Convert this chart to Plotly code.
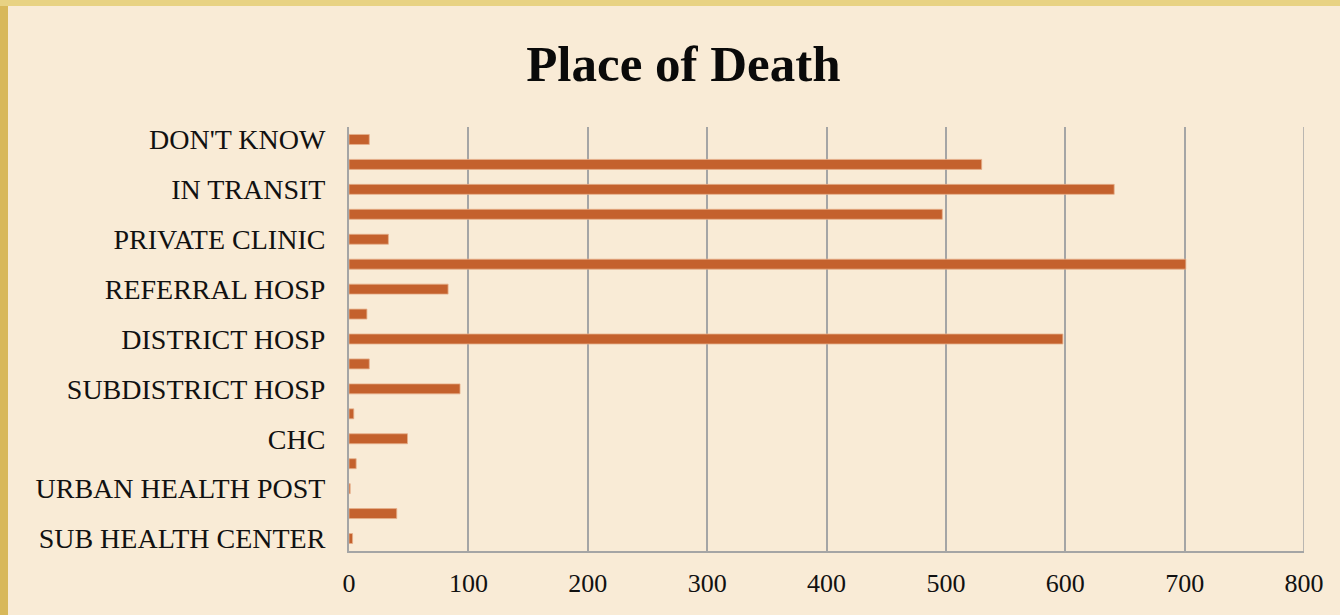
import plotly.graph_objects as go

# Categories from bottom to top (every other label is hidden in the original chart)
categories = [
    "SUB HEALTH CENTER", "PHC", "URBAN HEALTH POST", "URBAN HEALTH CENTER",
    "CHC", "FRU", "SUBDISTRICT HOSP", "AREA HOSP", "DISTRICT HOSP",
    "MEDICAL COLLEGE", "REFERRAL HOSP", "PRIVATE HOSP", "PRIVATE CLINIC",
    "HOME", "IN TRANSIT", "OTHER", "DON'T KNOW",
]
values = [3, 40, 1, 6, 49, 4, 93, 17, 598, 15, 83, 701, 33, 497, 641, 530, 17]

shown_labels = [
    "SUB HEALTH CENTER", "URBAN HEALTH POST", "CHC", "SUBDISTRICT HOSP",
    "DISTRICT HOSP", "REFERRAL HOSP", "PRIVATE CLINIC", "IN TRANSIT", "DON'T KNOW",
]
x_ticks = [0, 100, 200, 300, 400, 500, 600, 700, 800]

BG = "#F9EBD6"
BAR = "#C4612D"
GRID = "#A5A5A5"
FONT = "Liberation Serif"

fig = go.Figure()
fig.add_trace(go.Bar(
    x=values, y=categories, orientation="h", width=0.4,
    marker=dict(color=BAR, line=dict(color="#E6B08C", width=0.8)),
    showlegend=False,
))

fig.update_layout(
    width=1340, height=615,
    paper_bgcolor=BG, plot_bgcolor=BG,
    margin=dict(l=349, r=36, t=127, b=64),
    font=dict(family=FONT, color="#111111", size=26),
    title=dict(
        text="<b>Place of Death</b>", x=0.51, xref="container", xanchor="center",
        y=1 - 63 / 615, yref="container", yanchor="middle",
        font=dict(family=FONT, size=51, color="#0a0a0a"),
    ),
    xaxis=dict(
        range=[0, 800], tickmode="array", tickvals=x_ticks,
        showgrid=True, gridcolor=GRID, gridwidth=1.5,
        zeroline=False, showline=True, linecolor=GRID, linewidth=2,
        ticks="", ticklabelstandoff=8, tickfont=dict(size=26),
        fixedrange=True,
    ),
    yaxis=dict(
        type="category", categoryorder="array", categoryarray=categories,
        tickmode="array", tickvals=shown_labels, ticktext=shown_labels,
        showgrid=False, zeroline=False, showline=True, linecolor=GRID, linewidth=2,
        ticks="", ticklabelstandoff=16, tickfont=dict(size=28),
        range=[-0.5, len(categories) - 0.5],
    ),
    bargap=0.6,
    shapes=[
        # gold slide frame: left strip and top strip
        dict(type="rect", xref="paper", yref="paper", x0=-349 / 955, x1=-341 / 955,
             y0=-64 / 424, y1=1 + 127 / 424, fillcolor="#D8B85A", line=dict(width=0),
             layer="below"),
        dict(type="rect", xref="paper", yref="paper", x0=-349 / 955, x1=1 + 36 / 955,
             y0=1 + 121 / 424, y1=1 + 127 / 424, fillcolor="#E8D283", line=dict(width=0),
             layer="below"),
        # right edge gridline at 800
        dict(type="line", xref="x", yref="paper", x0=800, x1=800, y0=0, y1=1,
             line=dict(color=GRID, width=1.5)),
    ],
)

fig.write_html("out.html", config={"displayModeBar": False})

# remove the default page margin so the figure sits at the window's top-left corner
with open("out.html", "r", encoding="utf-8") as f:
    html = f.read()
html = html.replace("<body>", '<body style="margin:0;padding:0;overflow:hidden">', 1)
with open("out.html", "w", encoding="utf-8") as f:
    f.write(html)
